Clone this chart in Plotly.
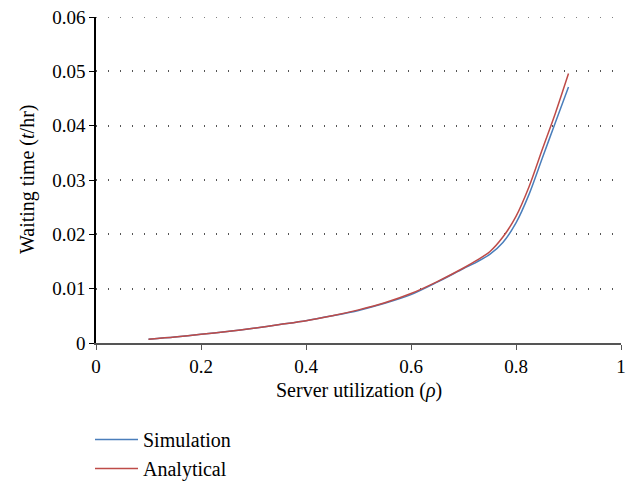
import plotly.graph_objects as go

rho = [0.10, 0.15, 0.20, 0.25, 0.30, 0.35, 0.40, 0.45, 0.50, 0.55, 0.60, 0.65, 0.70,
       0.725, 0.75, 0.775, 0.80, 0.825, 0.85, 0.875, 0.90]
simulation = [0.0007, 0.0011, 0.0016, 0.0021, 0.0027, 0.0034, 0.0041, 0.0050, 0.0060, 0.0073, 0.0089, 0.0112, 0.0137,
              0.0149, 0.0163, 0.0185, 0.0221, 0.0274, 0.0340, 0.0406, 0.0471]
analytical = [0.0007, 0.0011, 0.0016, 0.0021, 0.0027, 0.0034, 0.0041, 0.0050, 0.0061, 0.0074, 0.0091, 0.0113, 0.0138,
              0.0152, 0.0168, 0.0195, 0.0233, 0.0288, 0.0356, 0.0423, 0.0496]

x_ticks = [0, 0.2, 0.4, 0.6, 0.8, 1]
x_labels = ["0", "0.2", "0.4", "0.6", "0.8", "1"]
y_ticks = [0, 0.01, 0.02, 0.03, 0.04, 0.05, 0.06]
y_labels = ["0", "0.01", "0.02", "0.03", "0.04", "0.05", "0.06"]

FONT = "Liberation Serif, Times New Roman, serif"
GRID = "#555555"
DASH = "1px,11px"

# page body has an 8px margin, so the figure is sized to fit the 637x481 window
W, H = 629, 473
L, R, T, B = 88, 16, 9, 138
PW, PH = W - L - R, H - T - B

fig = go.Figure()
fig.add_trace(go.Scatter(x=rho, y=simulation, mode="lines", name="Simulation",
                         line=dict(color="#4a7ebb", width=1.5, shape="spline", smoothing=0.8)))
fig.add_trace(go.Scatter(x=rho, y=analytical, mode="lines", name="Analytical",
                         line=dict(color="#be4b48", width=1.5, shape="spline", smoothing=0.8)))

# top gridline (at the upper end of the range)
fig.add_shape(type="line", xref="paper", yref="y", x0=0, x1=1, y0=y_ticks[-1], y1=y_ticks[-1],
              line=dict(color=GRID, width=1.5, dash=DASH), layer="below")

fig.update_layout(
    width=W, height=H,
    margin=dict(l=L, r=R, t=T, b=B, autoexpand=False),
    paper_bgcolor="white", plot_bgcolor="white",
    font=dict(family=FONT, size=19, color="black"),
    showlegend=True,
    legend=dict(orientation="v", xref="container", yref="container",
                x=82 / W, xanchor="left", y=1 - 412 / H, yanchor="top",
                font=dict(family=FONT, size=20), tracegroupgap=0, itemwidth=43,
                bgcolor="rgba(0,0,0,0)"),
    xaxis=dict(range=[0, 1], tickvals=x_ticks, ticktext=x_labels, automargin=False,
               ticklabeloverflow="allow",
               showgrid=False, zeroline=False, showline=True, linecolor="#555555", linewidth=1.5,
               ticks="outside", ticklen=5, tickcolor="#555555"),
    yaxis=dict(range=[0, 0.06], tickvals=y_ticks, ticktext=y_labels, automargin=False,
               ticklabeloverflow="allow",
               showgrid=True, gridcolor=GRID, gridwidth=1.5, griddash=DASH,
               zeroline=False, showline=True, linecolor="black", linewidth=1.5,
               ticks="outside", ticklen=5, tickcolor="black"),
    annotations=[
        dict(text="Server utilization (<i>ρ</i>)", xref="paper", yref="paper",
             x=0.5, y=(PH - (382 - T)) / PH, xanchor="center", yanchor="middle",
             showarrow=False, font=dict(family=FONT, size=20)),
        dict(text="Waiting time (<i>t</i>/hr)", xref="paper", yref="paper",
             x=(19 - L) / PW, y=0.5, xanchor="center", yanchor="middle", textangle=-90,
             showarrow=False, font=dict(family=FONT, size=20)),
    ],
)

fig.write_html("out.html")
